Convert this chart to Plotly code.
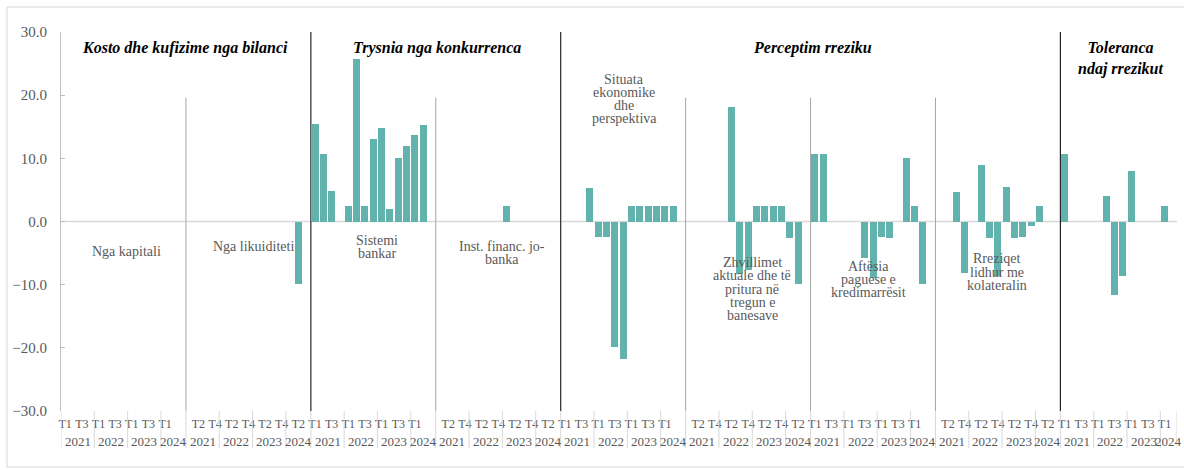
import plotly.graph_objects as go

# ---------------- data ----------------
years = ["2021", "2022", "2023", "2024"]
quarters = ["T1", "T2", "T3", "T4", "T1", "T2", "T3", "T4", "T1", "T2", "T3", "T4", "T1", "T2"]

nga_kapitali = [None] * 14
nga_likuiditeti = [None] * 13 + [-9.9]
sistemi_bankar = [15.4, 10.7, 4.9, None, 2.4, 25.7, 2.5, 13.1, 14.8, 2.0, 10.1, 11.9, 13.7, 15.2]
inst_jobanka = [None, None, None, None, None, None, None, None, 2.4, None, None, None, None, None]
situata_ekonomike = [None, None, None, 5.3, -2.5, -2.5, -19.9, -21.8, 2.4, 2.5, 2.5, 2.4, 2.5, 2.4]
tregu_banesave = [None, None, None, None, None, 18.1, -8.3, -7.7, 2.4, 2.5, 2.5, 2.4, -2.6, -9.9]
aftesia_paguese = [10.7, 10.7, None, None, None, None, -5.7, -8.9, -2.5, -2.6, None, 10.1, 2.5, -9.9]
rreziqet_kolaterali = [None, None, 4.7, -8.1, None, 9.0, -2.6, -8.6, 5.5, -2.6, -2.5, -0.7, 2.5, None]
toleranca_rrezikut = [10.7, None, None, None, None, 4.0, -11.7, -8.6, 8.0, None, None, None, 2.5, None]

panels = [nga_kapitali, nga_likuiditeti, sistemi_bankar, inst_jobanka, situata_ekonomike,
          tregu_banesave, aftesia_paguese, rreziqet_kolaterali, toleranca_rrezikut]
panel_labels = [
    ["Nga kapitali"],
    ["Nga likuiditeti"],
    ["Sistemi", "bankar"],
    ["Inst. financ. jo-", "banka"],
    ["Situata", "ekonomike", "dhe", "perspektiva"],
    ["Zhvillimet", "aktuale dhe të", "pritura në", "tregun e", "banesave"],
    ["Aftësia", "paguese e", "kredimarrësit"],
    ["Rreziqet", "lidhur me", "kolateralin"],
    [],
]
panel_label_pos = [(7.4, -4.8), (22.6, -3.9), (37.4, -4.0), (52.5, -5.0), (67.1, 19.4),
                   (82.5, -10.7), (96.4, -9.2), (111.9, -8.0), (0, 0)]
groups = ["Kosto dhe kufizime nga bilanci", "Trysnia nga konkurrenca",
          "Perceptim rreziku", "Toleranca<br>ndaj rrezikut"]
group_pos = [14.4, 44.6, 89.7, 126.7]

STEP = 15  # 14 quarters + 1 empty slot per panel
BAR = "#62B3AE"
GREY_TXT = "#595959"
FONT = "Liberation Serif, Times New Roman, DejaVu Serif, serif"

xs, ys = [], []
for p, vals in enumerate(panels):
    for j, v in enumerate(vals):
        if v is not None:
            xs.append(p * STEP + j)
            ys.append(v)

fig = go.Figure()
fig.add_trace(go.Bar(x=xs, y=ys, width=0.84, marker=dict(color=BAR, line=dict(width=0)),
                     showlegend=False, hoverinfo="x+y"))

n_panels = len(panels)
xmax = (n_panels - 1) * STEP + 13.5

# quarter tick labels: every second slot across the whole axis
tickvals, ticktext = [], []
for g in range(0, int(xmax) + 1, 2):
    j = g % STEP
    if j < 14:
        tickvals.append(g)
        ticktext.append(quarters[j])

shapes = []
annotations = []
# year labels and year separators below the axis
for p in range(n_panels):
    base = p * STEP
    last = p == n_panels - 1
    spans = [(0, 4), (4, 8), (8, 12), (12, 14 if last else 15)]
    for k, (a, b) in enumerate(spans):
        annotations.append(dict(x=base + (a + b - 1) / 2, y=0, xref="x", yref="paper",
                                text=years[k], showarrow=False, yanchor="top", yshift=-21,
                                font=dict(family=FONT, size=13, color=GREY_TXT)))
        shapes.append(dict(type="line", xref="x", yref="paper", x0=base + a - 0.5, x1=base + a - 0.5,
                           y0=0, y1=-0.098, line=dict(color="#D9D9D9", width=1)))
    if last:
        shapes.append(dict(type="line", xref="x", yref="paper", x0=base + 13.5, x1=base + 13.5,
                           y0=0, y1=-0.098, line=dict(color="#D9D9D9", width=1)))

# panel separators inside the plot
group_breaks = {2, 4, 8}
for p in range(1, n_panels):
    xb = p * STEP - 0.5
    if p in group_breaks:
        shapes.append(dict(type="line", xref="x", yref="y", x0=xb, x1=xb, y0=30, y1=-30.3,
                           line=dict(color="#262626", width=1.2)))
    else:
        shapes.append(dict(type="line", xref="x", yref="y", x0=xb, x1=xb, y0=19.6, y1=-30,
                           line=dict(color="#A6A6A6", width=1)))

# zero line
shapes.append(dict(type="line", xref="paper", yref="y", x0=0, x1=1, y0=0, y1=0,
                   line=dict(color="#D9D9D9", width=1.5), layer="below"))
# outer chart border
shapes.append(dict(type="rect", xref="paper", yref="paper", x0=-0.0484, x1=1.03, y0=-0.148, y1=1.066,
                   line=dict(color="#D9D9D9", width=1)))

# panel labels, one annotation per line for tight spacing
for lines, (cx, cy) in zip(panel_labels, panel_label_pos):
    n = len(lines)
    for i, t in enumerate(lines):
        annotations.append(dict(x=cx, y=cy, xref="x", yref="y", text=t, showarrow=False,
                                yshift=((n - 1) / 2 - i) * 13.2,
                                font=dict(family=FONT, size=14, color=GREY_TXT)))

# group headings
for t, gx in zip(groups, group_pos):
    annotations.append(dict(x=gx, y=30, xref="x", yref="y", text="<b><i>" + t + "</i></b>",
                            showarrow=False, yanchor="top", yshift=-5,
                            font=dict(family=FONT, size=16, color="#000000")))

fig.update_layout(
    width=1184, height=470,
    margin=dict(l=61, r=7, t=32, b=59),
    paper_bgcolor="white", plot_bgcolor="white",
    bargap=0,
    shapes=shapes, annotations=annotations,
    xaxis=dict(range=[-0.5, xmax], tickvals=tickvals, ticktext=ticktext, tickangle=0,
               showgrid=False, zeroline=False, showline=False, ticks="", automargin=False,
               ticklabelstandoff=4,
               tickfont=dict(family=FONT, size=12, color=GREY_TXT)),
    yaxis=dict(range=[-30, 30], dtick=10, tick0=-30, tickformat=".1f", showgrid=False,
               zeroline=False, showline=True, linecolor="#BFBFBF", linewidth=1, automargin=False,
               ticks="inside", ticklen=4, tickcolor="#BFBFBF", ticklabelstandoff=10,
               tickfont=dict(family=FONT, size=15, color=GREY_TXT)),
)

fig.write_html("out.html", config={"displayModeBar": False},
               post_script="document.body.style.margin='0';")
